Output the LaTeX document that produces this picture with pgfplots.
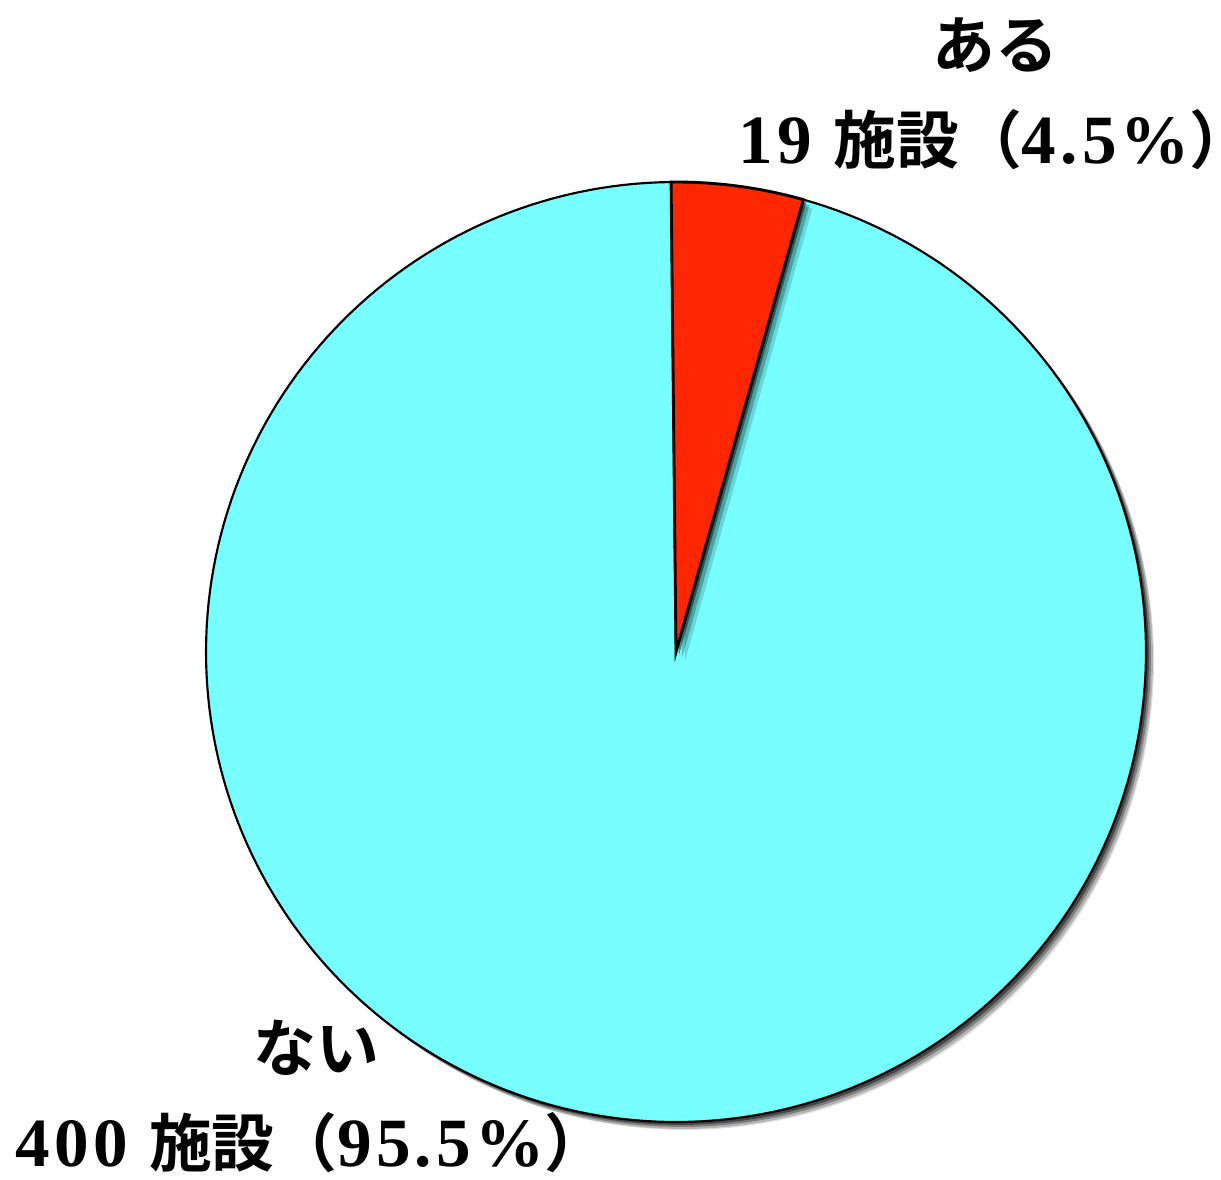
\documentclass[border=0pt]{standalone}
\usepackage{fontspec}
\setmainfont{Liberation Serif}[Scale=1.1,LetterSpace=6]
\newfontfamily\cjk{Noto Sans CJK JP}[BoldFont={Noto Sans CJK JP Bold}]
\usepackage{pgfplots}
\usepackage{pgfplotstable}
\pgfplotsset{compat=1.18}
\definecolor{piecyan}{RGB}{119,255,255}
\definecolor{piered}{RGB}{255,38,0}
\newcommand\jp[1]{{\cjk\bfseries #1}}
\pgfplotstableread{
label value
aru 19
nai 400
}\piedata
\pgfplotstablegetelem{0}{value}\of\piedata \let\va\pgfplotsretval
\pgfplotstablegetelem{1}{value}\of\piedata \let\vb\pgfplotsretval
\pgfmathsetmacro\total{\va+\vb}
\pgfmathsetmacro\angA{360*\va/\total}
\pgfmathsetmacro\st{90.6}
\pgfmathsetmacro\redS{\st-\angA}
\pgfmathsetmacro\cyS{\st-360}
\def\cx{676}
\def\cy{527}
\def\R{470}
\begin{document}
\begin{tikzpicture}
\begin{axis}[width=427.35pt,height=412.65pt,scale only axis,hide axis,
  xmin=0,xmax=1221,ymin=0,ymax=1179,clip=false]
% shadow of the whole pie
\addplot[fill=black,draw=none,fill opacity=0.12,domain=0:360,samples=180,variable=\t]
  ({\cx+9+(\R-1)*cos(\t)},{\cy-9+(\R-1)*sin(\t)}) -- cycle;
\addplot[fill=black,draw=none,fill opacity=0.2,domain=0:360,samples=180,variable=\t]
  ({\cx+7+(\R)*cos(\t)},{\cy-7+(\R)*sin(\t)}) -- cycle;
\addplot[fill=black,draw=none,fill opacity=0.3,domain=0:360,samples=180,variable=\t]
  ({\cx+5+(\R)*cos(\t)},{\cy-5+(\R)*sin(\t)}) -- cycle;
\addplot[fill=black,draw=none,fill opacity=0.45,domain=0:360,samples=180,variable=\t]
  ({\cx+3+(\R)*cos(\t)},{\cy-3+(\R)*sin(\t)}) -- cycle;
% cyan slice
\addplot[fill=piecyan,draw=black,line width=0.75pt,domain=\cyS:\redS,samples=240,variable=\t]
  ({\cx+\R*cos(\t)},{\cy+\R*sin(\t)}) -- (axis cs:\cx,\cy) -- cycle;
% shadow of red slice
\addplot[fill=black,draw=none,fill opacity=0.15,domain=\redS:\st,samples=30,variable=\t]
  ({\cx+9+\R*cos(\t)},{\cy-9+\R*sin(\t)}) -- (axis cs:\cx+9,\cy-9) -- cycle;
\addplot[fill=black,draw=none,fill opacity=0.25,domain=\redS:\st,samples=30,variable=\t]
  ({\cx+6+\R*cos(\t)},{\cy-6+\R*sin(\t)}) -- (axis cs:\cx+6,\cy-6) -- cycle;
\addplot[fill=black,draw=none,fill opacity=0.45,domain=\redS:\st,samples=30,variable=\t]
  ({\cx+3+\R*cos(\t)},{\cy-3+\R*sin(\t)}) -- (axis cs:\cx+3,\cy-3) -- cycle;
% red slice
\addplot[fill=piered,draw=black,line width=1pt,domain=\redS:\st,samples=30,variable=\t]
  ({\cx+\R*cos(\t)},{\cy+\R*sin(\t)}) -- (axis cs:\cx,\cy) -- cycle;
% labels
\tikzset{lbl/.style={inner sep=0pt,font=\fontsize{22}{26}\selectfont\bfseries}}
\node[lbl] at (axis cs:995,1134) {\jp{ある}};
\node[lbl,anchor=west] at (axis cs:738,1039) {19 \jp{施設（}4.5\%\rlap{\jp{）}}};
\node[lbl] at (axis cs:316,131) {\jp{ない}};
\node[lbl,anchor=west] at (axis cs:15,36) {400 \jp{施設（}95.5\%\rlap{\jp{）}}};
\end{axis}
\pgfresetboundingbox
\path (current axis.south west) rectangle (current axis.north east);
\end{tikzpicture}
\end{document}
